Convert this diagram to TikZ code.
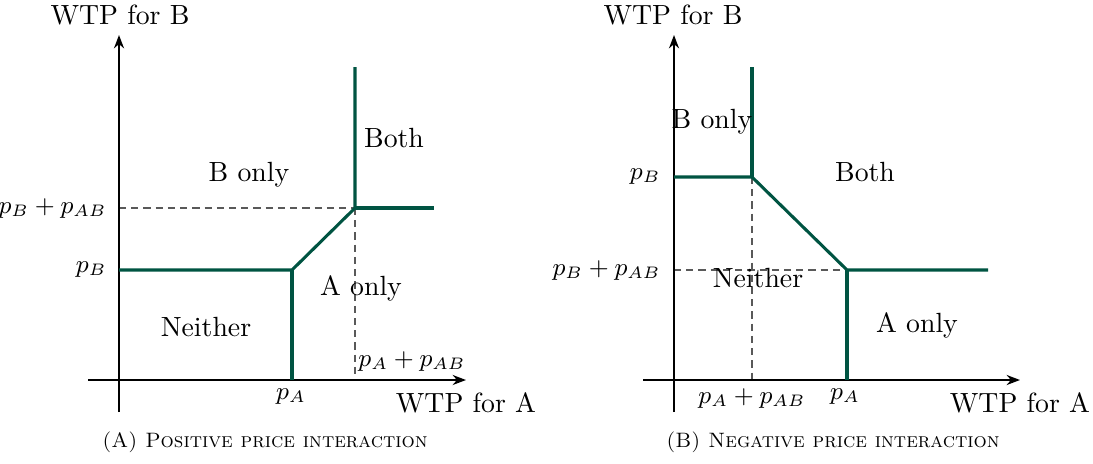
\documentclass[tikz,border=0pt]{standalone}
\usetikzlibrary{arrows.meta}
\definecolor{curvegreen}{RGB}{0,84,66}
\begin{document}
\begin{tikzpicture}[x=0.36pt,y=-0.36pt,
  axis/.style={line width=0.75pt,-{Stealth[length=4.8pt,width=3.6pt]}},
  bound/.style={line width=1.1pt,curvegreen},
  guide/.style={line width=0.4pt,black!65,dash pattern=on 2.6pt off 1.8pt},
  lbl/.style={inner sep=0pt,font=\normalsize},
  mlbl/.style={inner sep=0pt,font=\fontsize{8.6}{10}\selectfont},
  subcap/.style={inner sep=0pt,font=\fontsize{7.5}{9}\selectfont}]
\useasboundingbox (0,0) rectangle (1093,463);
% ---------- Panel A ----------
\coordinate (aYb) at (119,412);
\coordinate (aYt) at (119,35);
\coordinate (aXl) at (88,380);
\coordinate (aXr) at (466,380);
\coordinate (aPB) at (119,270);
\coordinate (aK1) at (292,270);
\coordinate (aPA) at (292,380);
\coordinate (aK2) at (355,208);
\coordinate (aTop) at (355,67);
\coordinate (aRt) at (434,208);
\coordinate (aPBAB) at (119,208);
\coordinate (aPAAB) at (355,376);
\draw[guide] (aPBAB) -- (aK2);
\draw[guide] (aK2) -- (aPAAB);
\draw[axis] (aYb) -- (aYt);
\draw[axis] (aXl) -- (aXr);
\draw[bound] (aPB) -- (aK1) -- (aK2) -- (aTop);
\draw[bound] (aK1) -- (aPA);
\draw[bound] (aK2) -- (aRt);
\node[lbl] (aYlab) at (120,15) {WTP for B};
\node[lbl] (aXlab) at (466,403) {WTP for A};
\node[mlbl,anchor=east] (aLpb) at (107,270) {$p_B$};
\node[mlbl,anchor=east] (aLpbab) at (107,209) {$p_B+p_{AB}$};
\node[mlbl] (aLpa) at (291,397) {$p_A$};
\node[mlbl] (aLpaab) at (412,362) {$p_A+p_{AB}$};
\node[lbl] (aBoth) at (394,138) {Both};
\node[lbl] (aBonly) at (249,175) {B only};
\node[lbl] (aAonly) at (361,288) {A only};
\node[lbl] (aNeither) at (206,327) {Neither};
\node[subcap] (aCap) at (265,442) {\textsc{(A) Positive price interaction}};
% ---------- Panel B ----------
\coordinate (bYb) at (674,412);
\coordinate (bYt) at (674,35);
\coordinate (bXl) at (643,380);
\coordinate (bXr) at (1020,380);
\coordinate (bPB) at (674,177);
\coordinate (bK1) at (752,177);
\coordinate (bTop) at (752,67);
\coordinate (bK2) at (847,270);
\coordinate (bRt) at (988,270);
\coordinate (bPA) at (847,380);
\coordinate (bPBAB) at (674,270);
\coordinate (bPAAB) at (752,380);
\draw[guide] (bPBAB) -- (bK2);
\draw[guide] (bK1) -- (bPAAB);
\draw[axis] (bYb) -- (bYt);
\draw[axis] (bXl) -- (bXr);
\draw[bound] (bPB) -- (bK1) -- (bK2) -- (bRt);
\draw[bound] (bK1) -- (bTop);
\draw[bound] (bK2) -- (bPA);
\node[lbl] (bYlab) at (673,15) {WTP for B};
\node[lbl] (bXlab) at (1020,403) {WTP for A};
\node[mlbl,anchor=east] (bLpb) at (661,177) {$p_B$};
\node[mlbl,anchor=east] (bLpbab) at (661,271) {$p_B+p_{AB}$};
\node[mlbl] (bLpaab) at (752,399) {$p_A+p_{AB}$};
\node[mlbl] (bLpa) at (845,397) {$p_A$};
\node[lbl] (bBonly) at (712,122) {B only};
\node[lbl] (bBoth) at (865,172) {Both};
\node[lbl] (bNeither) at (758,278) {Neither};
\node[lbl] (bAonly) at (917,325) {A only};
\node[subcap] (bCap) at (833,442) {\textsc{(B) Negative price interaction}};
\end{tikzpicture}
\end{document}
